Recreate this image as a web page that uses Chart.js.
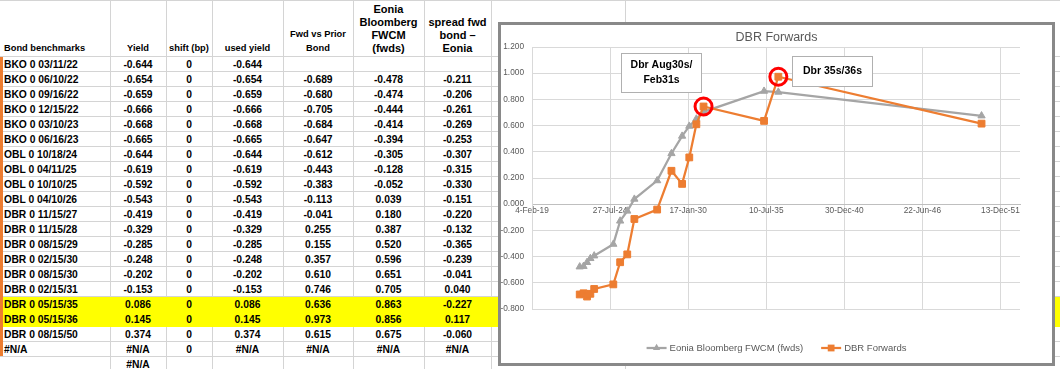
<!DOCTYPE html>
<html><head><meta charset="utf-8">
<script src="https://cdn.jsdelivr.net/npm/chart.js@4"></script>
<style>
html,body{margin:0;padding:0;background:#fff;}
body{width:1060px;height:369px;overflow:hidden;position:relative;font-family:"Liberation Sans",Arial,sans-serif;}
.hl{position:absolute;left:0;width:1060px;height:1px;background:#d4d4d4;}
.vl{position:absolute;top:0;width:1px;height:369px;background:#d4d4d4;}
.cell{position:absolute;font-weight:bold;font-size:10.3px;color:#000;white-space:nowrap;line-height:15px;height:15px;}
.hdr{position:absolute;top:0;height:55px;font-weight:bold;color:#000;white-space:nowrap;display:flex;flex-direction:column;justify-content:flex-end;}
.yellow{position:absolute;left:0;width:1060px;background:#ffff00;}
#stripe{position:absolute;left:0;top:57px;width:3px;height:299px;background:#ed7d31;}
#chartBox{position:absolute;left:498px;top:22px;width:551px;height:338px;border:3px solid #898989;background:#fff;}
#chartBox canvas{position:absolute;left:0;top:0;}
</style></head>
<body>
<div id="sheet"></div>
<div id="chartBox"><canvas id="c" width="551" height="338"></canvas></div>
<script>
// ---------------- DATA ----------------
const bonds = ["BKO 0 03/11/22","BKO 0 06/10/22","BKO 0 09/16/22","BKO 0 12/15/22","BKO 0 03/10/23","BKO 0 06/16/23","OBL 0 10/18/24","OBL 0 04/11/25","OBL 0 10/10/25","OBL 0 04/10/26","DBR 0 11/15/27","DBR 0 11/15/28","DBR 0 08/15/29","DBR 0 02/15/30","DBR 0 08/15/30","DBR 0 02/15/31","DBR 0 05/15/35","DBR 0 05/15/36","DBR 0 08/15/50"];
const maturities = ["2022-03-11","2022-06-10","2022-09-16","2022-12-15","2023-03-10","2023-06-16","2024-10-18","2025-04-11","2025-10-10","2026-04-10","2027-11-15","2028-11-15","2029-08-15","2030-02-15","2030-08-15","2031-02-15","2035-05-15","2036-05-15","2050-08-15"];
const yields = [-0.644,-0.654,-0.659,-0.666,-0.668,-0.665,-0.644,-0.619,-0.592,-0.543,-0.419,-0.329,-0.285,-0.248,-0.202,-0.153,0.086,0.145,0.374];
const shifts = [0,0,0,0,0,0,0,0,0,0,0,0,0,0,0,0,0,0,0];
const usedYields = [-0.644,-0.654,-0.659,-0.666,-0.668,-0.665,-0.644,-0.619,-0.592,-0.543,-0.419,-0.329,-0.285,-0.248,-0.202,-0.153,0.086,0.145,0.374];
const fwdVsPrior = [null,-0.689,-0.680,-0.705,-0.684,-0.647,-0.612,-0.443,-0.383,-0.113,-0.041,0.255,0.155,0.357,0.610,0.746,0.636,0.973,0.615];
const eoniaFwds = [null,-0.478,-0.474,-0.444,-0.414,-0.394,-0.305,-0.128,-0.052,0.039,0.180,0.387,0.520,0.596,0.651,0.705,0.863,0.856,0.675];
const spreadFwd = [null,-0.211,-0.206,-0.261,-0.269,-0.253,-0.307,-0.315,-0.330,-0.151,-0.220,-0.132,-0.365,-0.239,-0.041,0.040,-0.227,0.117,-0.060];
const highlightedBonds = ["DBR 0 05/15/35","DBR 0 05/15/36"];
const headers = [["Bond benchmarks"],["Yield"],["shift (bp)"],["used yield"],["Fwd vs Prior","Bond"],["Eonia","Bloomberg","FWCM","(fwds)"],["spread fwd","bond \u2013","Eonia"]];
const naRow1 = ["#N/A","#N/A","0","#N/A","#N/A","#N/A","#N/A"];
const naRow2 = ["","#N/A","","","","",""];

const chartTitle = "DBR Forwards";
const seriesNames = ["Eonia Bloomberg FWCM (fwds)","DBR Forwards"];
const xTickValues = [43500,45500,47500,49500,51500,53500,55500];
const xTickLabels = ["4-Feb-19","27-Jul-24","17-Jan-30","10-Jul-35","30-Dec-40","22-Jun-46","13-Dec-51"];
const yTickValues = [-0.8,-0.6,-0.4,-0.2,0,0.2,0.4,0.6,0.8,1.0,1.2];
const annotations = [
  {lines:["Dbr Aug30s/","Feb31s"], bond:"DBR 0 02/15/31", box:[120,28,81,40]},
  {lines:["Dbr 35s/36s"], bond:"DBR 0 05/15/36", box:[291,31,81,31]}
];

// ---------------- SHEET ----------------
const FONT = '"Liberation Sans", Arial, sans-serif';
const colEdges = [0,110,166,212,283,353,424,491];
const sheet = document.getElementById('sheet');
function add(cls, style, html){const d=document.createElement('div');d.className=cls;Object.assign(d.style,style);if(html!==undefined)d.innerHTML=html;sheet.appendChild(d);return d;}
// grid lines
add('hl',{top:'0px'});
for(let k=0;k<=20;k++) add('hl',{top:(56+15*k)+'px'});
colEdges.slice(1).forEach(x=>add('vl',{left:x+'px'}));
add('vl',{left:'625px'});
// yellow rows
highlightedBonds.forEach(b=>{const i=bonds.indexOf(b);add('yellow',{top:(57+15*i)+'px',height:'15px'});});
add('',{},'').id='stripe';
// headers
headers.forEach((lines,c)=>{
  const big = c>=5;
  const d = add('hdr',{left:colEdges[c]+'px',width:(colEdges[c+1]-colEdges[c])+'px',fontSize:(big?'11px':'9.3px'),lineHeight:(big?'13px':'14px'),alignItems:(c===0?'flex-start':'center')});
  if(c===0) d.style.paddingLeft='4px';
  d.innerHTML = lines.map(l=>'<div>'+l+'</div>').join('');
});
function cellText(c, txt, row){
  const top = 57+15*row;
  if(c===0) add('cell',{left:'4px',top:top+'px'},txt);
  else add('cell',{left:colEdges[c]+'px',width:(colEdges[c+1]-colEdges[c])+'px',textAlign:'center',top:top+'px'},txt);
}
const f3 = v => v===null ? '' : v.toFixed(3);
bonds.forEach((b,i)=>{
  cellText(0,b,i); cellText(1,f3(yields[i]),i); cellText(2,String(shifts[i]),i); cellText(3,f3(usedYields[i]),i);
  cellText(4,f3(fwdVsPrior[i]),i); cellText(5,f3(eoniaFwds[i]),i); cellText(6,f3(spreadFwd[i]),i);
});
naRow1.forEach((t,c)=>{ if(t) cellText(c,t,bonds.length); });
naRow2.forEach((t,c)=>{ if(t) cellText(c,t,bonds.length+1); });

// ---------------- CHART ----------------
function excelSerial(s){const [y,m,d]=s.split('-').map(Number);return Math.round((Date.UTC(y,m-1,d)-Date.UTC(1899,11,30))/86400000);}
const pts = bonds.map((b,i)=>i).filter(i=>fwdVsPrior[i]!==null);
const dbrData = pts.map(i=>({x:excelSerial(maturities[i]),y:fwdVsPrior[i],bond:bonds[i]}));
const eoniaData = pts.map(i=>({x:excelSerial(maturities[i]),y:eoniaFwds[i],bond:bonds[i]}));
const GRAY='#a5a5a5', ORANGE='#ed7d31', TXT='#595959';

function marker(ctx, style, x, y, r, color){
  ctx.fillStyle=color; ctx.beginPath();
  if(style==='triangle'){ctx.moveTo(x,y-r);ctx.lineTo(x+r*0.866,y+r*0.5);ctx.lineTo(x-r*0.866,y+r*0.5);ctx.closePath();}
  else {const s=r*0.7071;ctx.rect(x-s,y-s,2*s,2*s);}
  ctx.fill();
}
const decor = {
  id:'decor',
  afterDatasetsDraw(chart){
    const ctx = chart.ctx; ctx.save();
    const dbrMeta = chart.getDatasetMeta(1);
    annotations.forEach(a=>{
      const [bx,by,bw,bh]=a.box;
      ctx.fillStyle='#fff'; ctx.fillRect(bx,by,bw,bh);
      ctx.strokeStyle='#b0b0b0'; ctx.lineWidth=1; ctx.strokeRect(bx+0.5,by+0.5,bw-1,bh-1);
      ctx.fillStyle='#000'; ctx.font='bold 10.5px '+FONT; ctx.textAlign='center'; ctx.textBaseline='middle';
      const lh=15, y0 = by+bh/2-(a.lines.length-1)*lh/2;
      a.lines.forEach((l,k)=>ctx.fillText(l,bx+bw/2,y0+k*lh));
    });
    annotations.forEach(a=>{
      const idx = dbrData.findIndex(p=>p.bond===a.bond);
      const el = dbrMeta.data[idx];
      ctx.strokeStyle='#ff0000'; ctx.lineWidth=3; ctx.beginPath(); ctx.arc(el.x,el.y,8.5,0,Math.PI*2); ctx.stroke();
    });
    // title
    ctx.fillStyle=TXT; ctx.font='12.5px '+FONT; ctx.textAlign='center'; ctx.textBaseline='middle';
    ctx.fillText(chartTitle, chart.width/2, 13);
    // legend
    ctx.font='9.5px '+FONT; ctx.textAlign='left';
    const items = chart.data.datasets.map(ds=>({name:ds.label,color:ds.borderColor,style:ds.pointStyle,r:ds.pointRadius}));
    const lineLen=20, gap=3, spacing=18;
    const widths = items.map(it=>lineLen+gap+ctx.measureText(it.name).width);
    let x = chart.width/2 - (widths.reduce((a,b)=>a+b,0)+spacing*(items.length-1))/2;
    const ly = 323;
    items.forEach((it,k)=>{
      ctx.strokeStyle=it.color; ctx.lineWidth=2.25; ctx.beginPath(); ctx.moveTo(x,ly); ctx.lineTo(x+lineLen,ly); ctx.stroke();
      marker(ctx,it.style,x+lineLen/2,ly,it.r,it.color);
      ctx.fillStyle=TXT; ctx.fillText(it.name,x+lineLen+gap,ly);
      x += widths[k]+spacing;
    });
    ctx.restore();
  }
};

new Chart(document.getElementById('c'),{
  type:'scatter',
  data:{datasets:[
    {label:seriesNames[0],data:eoniaData,showLine:true,borderColor:GRAY,backgroundColor:GRAY,borderWidth:2.25,pointStyle:'triangle',pointRadius:4.2,pointBorderWidth:1,order:1,tension:0},
    {label:seriesNames[1],data:dbrData,showLine:true,borderColor:ORANGE,backgroundColor:ORANGE,borderWidth:2.25,pointStyle:'rect',pointRadius:4.8,pointBorderWidth:1,order:0,tension:0}
  ]},
  options:{
    responsive:false, animation:false, devicePixelRatio:1,
    layout:{padding:{left:0,top:22,right:32,bottom:54}},
    plugins:{legend:{display:false},title:{display:false},tooltip:{enabled:false}},
    scales:{
      x:{type:'linear',min:43500,max:56000,position:{y:0},
        afterBuildTicks:s=>{s.ticks=xTickValues.map(v=>({value:v}));},
        ticks:{callback:(v)=>{const i=xTickValues.indexOf(v);return i>=0?xTickLabels[i]:'';},font:{family:FONT,size:8.3},color:TXT,padding:2,maxRotation:0,autoSkip:false},
        grid:{color:'#d9d9d9',drawTicks:false},
        border:{color:'#bfbfbf'}},
      y:{type:'linear',min:-0.8,max:1.2,
        afterBuildTicks:s=>{s.ticks=yTickValues.map(v=>({value:v}));},
        afterFit:s=>{s.width=31;},
        ticks:{callback:v=>v.toFixed(3),font:{family:FONT,size:8.3},color:TXT,padding:8},
        grid:{color:'#d9d9d9',drawTicks:false},
        border:{color:'#d9d9d9'}}
    }
  },
  plugins:[decor]
});
</script>
</body></html>
